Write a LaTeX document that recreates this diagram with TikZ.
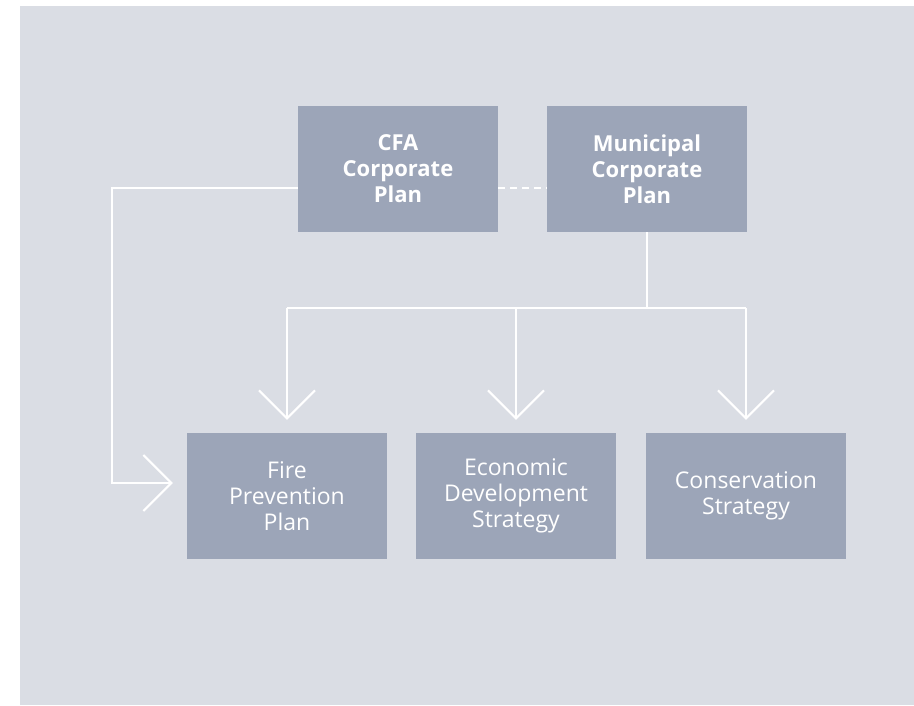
\documentclass[tikz,border=0pt]{standalone}
\usepackage{fontspec}
\setmainfont{Open Sans}
\usetikzlibrary{arrows.meta}
\definecolor{bgc}{HTML}{DADDE4}
\definecolor{boxc}{HTML}{9CA5B8}
\tikzset{
  plan/.style={fill=boxc, text=white, minimum width=200pt, minimum height=126pt, inner sep=0pt, align=center, font=\fontsize{23}{26}\selectfont},
  topplan/.style={plan, font=\fontsize{22}{26}\selectfont\bfseries},
  link/.style={draw=white, line width=2pt},
  arr/.style={link, -{Straight Barb[length=28pt,width=56pt,line width=2pt]}},
}
\begin{document}
\begin{tikzpicture}[x=1pt,y=-1pt]
\useasboundingbox (0,0) rectangle (914,705);
\fill[bgc] (20,6) rectangle (914,705);
\node[topplan] (cfa) at (398,169) {CFA\\Corporate\\Plan};
\node[topplan] (mun) at (647,169) {Municipal\\Corporate\\Plan};
\node[plan] (fire) at (287,496) {Fire\\Prevention\\Plan};
\node[plan] (eco) at (516,496) {Economic\\Development\\Strategy};
\node[plan] (con) at (746,496) {Conservation\\Strategy};
\coordinate (split) at (647,308);
\coordinate (lc) at (112,188);
\draw[link, dash pattern=on 7pt off 5pt] (cfa.east |- 0,188) -- (mun.west |- 0,188);
\draw[link] (mun.south) -- (split);
\draw[link] (fire.north |- split) -- (con.north |- split);
\draw[arr] (fire.north |- split) -- ([yshift=13pt]fire.north);
\draw[arr] (eco.north |- split) -- ([yshift=13pt]eco.north);
\draw[arr] (con.north |- split) -- ([yshift=13pt]con.north);
\draw[arr] (cfa.west |- lc) -- (lc) |- ([xshift=-14pt]fire.west |- 0,483);
\end{tikzpicture}
\end{document}
